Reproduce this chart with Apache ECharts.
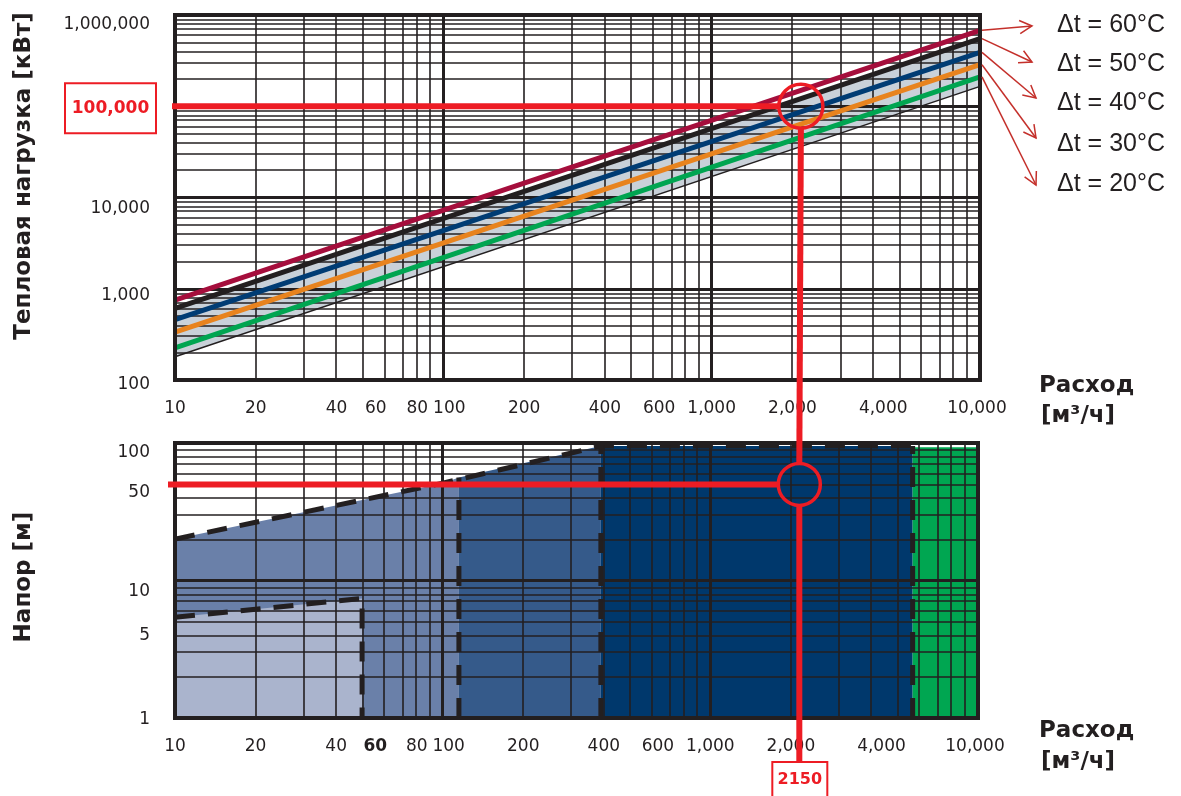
<!DOCTYPE html>
<html><head><meta charset="utf-8">
<script src="https://cdn.jsdelivr.net/npm/echarts@6/dist/echarts.min.js"></script>
<style>html,body{margin:0;padding:0;background:#fff}#c{width:1181px;height:796px}</style>
</head><body><div id="c"></div>
<script>
// ---------- data ----------
const flowTicks = [10, 20, 40, 60, 80, 100, 200, 400, 600, 1000, 2000, 4000, 10000];
const flowTickLabels = ['10', '20', '40', '60', '80', '100', '200', '400', '600', '1,000', '2,000', '4,000', '10,000'];
const loadTicks = [100, 1000, 10000, 1000000];
const loadTickLabels = ['100', '1,000', '10,000', '1,000,000'];
const headTicks = [1, 5, 10, 50, 100];
const headTickLabels = ['1', '5', '10', '50', '100'];

// heat load lines (kW) at flow ends (m3/h)
const lineFlow = [10, 10000];
const dtNames = ['Δt = 60°C', 'Δt = 50°C', 'Δt = 40°C', 'Δt = 30°C', 'Δt = 20°C'];
const load60 = [750, 680000];
const load50 = [610, 550000];
const load40 = [460, 390000];
const load30 = [335, 285000];
const load20 = [225, 210000];
const bandLower = [180, 165000];

// pump ranges (head, m) vs flow
const lightFlow = [10, 50];
const lightHead = [5.4, 7.4];
const mediumFlow = [10, 100, 115];
const mediumHead = [20, 51, 56];
const darkFlow = [115, 390];
const darkHead = [56, 95];
const navyFlow = [390, 5700];
const navyHead = [95, 95];
const greenFlow = [5700, 10000];
const greenHead = [93, 93];

// example reading
const annoFlow = 2150;
const annoLoad = 100000;
const annoHead = 50;

// ---------- helpers ----------
const lg = Math.log10;
const INK = '#231f20';
const FONT = 'DejaVu Sans';
const RED = '#ed1c24';

// label nudges (pixels) to mimic the reference's hand-set label layout
const flowLabelShift = { 60: -8, 100: 6, 600: 7, 4000: 10, 10000: -3 };
const loadLabelDrop = { 100: 5, 1000: 7, 10000: 11, 1000000: 10 };
const headLabelDrop = { 1: 2, 5: 14, 10: 11, 50: 8, 100: 10 };

function pairs(xs, ys) { return xs.map((x, i) => [lg(x), lg(ys[i])]); }
function nearestIdx(ticks, v) {
  let bi = 0, bd = 1e9;
  ticks.forEach((t, i) => { const d = Math.abs(lg(t) - v); if (d < bd) { bd = d; bi = i; } });
  return bi;
}
function xRich(bold) {
  const r = {};
  flowTicks.forEach((t, i) => {
    const s = flowLabelShift[t] || 0;
    r['t' + i] = {
      fontFamily: FONT, fontSize: 17, color: INK,
      fontWeight: (bold && bold.indexOf(t) >= 0) ? 'bold' : 'normal',
      padding: s > 0 ? [0, 0, 0, 2 * s] : [0, -2 * s, 0, 0]
    };
  });
  return r;
}
function yRich(ticks, drop) {
  const r = {};
  ticks.forEach((t, i) => {
    r['t' + i] = { fontFamily: FONT, fontSize: 17, color: INK, padding: [2 * (drop[t] || 0), 0, 0, 0] };
  });
  return r;
}
function tickFmt(ticks, labels) {
  return function (v) { const i = nearestIdx(ticks, v); return '{t' + i + '|' + labels[i] + '}'; };
}
function logGrid(lo, hi) {
  const major = [], minor = [];
  for (let e = lo; e <= hi; e++) {
    major.push(e);
    if (e < hi) for (let k = 2; k <= 9; k++) minor.push(e + lg(k));
  }
  return { major, minor };
}
function gridSeries(xi, yi, xg, yg, z) {
  const minorStyle = { color: INK, width: 1.6, type: 'solid', opacity: 1 };
  const majorStyle = { color: INK, width: 3, type: 'solid', opacity: 1 };
  const data = [];
  xg.minor.forEach(v => data.push({ xAxis: v, lineStyle: minorStyle }));
  xg.major.forEach(v => data.push({ xAxis: v, lineStyle: majorStyle }));
  yg.minor.forEach(v => data.push({ yAxis: v, lineStyle: minorStyle }));
  yg.major.forEach(v => data.push({ yAxis: v, lineStyle: majorStyle }));
  return {
    type: 'line', xAxisIndex: xi, yAxisIndex: yi, data: [], z: z, silent: true,
    markLine: { silent: true, symbol: ['none', 'none'], label: { show: false }, animation: false, data: data }
  };
}
const labelBase = { color: INK, fontFamily: FONT, fontSize: 17 };

const xg = logGrid(1, 4), ytg = logGrid(2, 6), ybg = logGrid(0, 2);

const lineColors = ['#a50e3c', INK, '#003c74', '#e8831e', '#00a551'];
const loads = [load60, load50, load40, load30, load20];

const chart = echarts.init(document.getElementById('c'));

function xAxisDef(gi, bold) {
  return {
    type: 'value', gridIndex: gi, min: 1, max: 4,
    axisLine: { show: false }, axisTick: { show: false }, splitLine: { show: false },
    axisLabel: Object.assign({}, labelBase, {
      margin: 20, customValues: flowTicks.map(lg),
      formatter: tickFmt(flowTicks, flowTickLabels),
      rich: xRich(bold)
    })
  };
}
function yAxisDef(gi, min, max, ticks, labels, drop) {
  return {
    type: 'value', gridIndex: gi, min: min, max: max,
    axisLine: { show: false }, axisTick: { show: false }, splitLine: { show: false },
    axisLabel: Object.assign({}, labelBase, {
      margin: 25, customValues: ticks.map(lg),
      formatter: tickFmt(ticks, labels), rich: yRich(ticks, drop)
    })
  };
}

const series = [];
// top: band
const bandData = lineFlow.map((f, j) => [lg(f), lg(load50[j]), lg(bandLower[j])]);
series.push({
  type: 'custom', xAxisIndex: 0, yAxisIndex: 0, z: 1, silent: true, data: bandData,
  renderItem: function (params, api) {
    if (params.dataIndex !== 0) return null;
    const top = bandData.map(d => api.coord([d[0], d[1]]));
    const bot = bandData.map(d => api.coord([d[0], d[2]])).reverse();
    return { type: 'polygon', shape: { points: top.concat(bot) }, style: { fill: '#c9d1d9' } };
  }
});
series.push(gridSeries(0, 0, xg, ytg, 2));
series.push({
  type: 'line', xAxisIndex: 0, yAxisIndex: 0, z: 4, symbol: 'none', silent: true,
  data: pairs(lineFlow, bandLower), lineStyle: { color: INK, width: 1.5 }
});
loads.forEach((arr, i) => {
  series.push({
    name: dtNames[i], type: 'line', xAxisIndex: 0, yAxisIndex: 0, z: 5, symbol: 'none', silent: true,
    data: pairs(lineFlow, arr), lineStyle: { color: lineColors[i], width: 5 }
  });
});

// bottom: areas
const areas = [
  [mediumFlow, mediumHead, '#6a80a9'],
  [darkFlow, darkHead, '#355a8a'],
  [navyFlow, navyHead, '#00386c'],
  [greenFlow, greenHead, '#00a651'],
  [lightFlow, lightHead, '#aab4cd']
];
areas.forEach(a => {
  series.push({
    type: 'line', xAxisIndex: 1, yAxisIndex: 1, z: 2, symbol: 'none', silent: true,
    data: pairs(a[0], a[1]), lineStyle: { width: 0 },
    areaStyle: { color: a[2], opacity: 1, origin: 'start' }
  });
});
series.push(gridSeries(1, 1, xg, ybg, 3));
// dashed boundaries
const dash = { color: INK, width: 5, type: [20, 13] };
const bounds = [
  pairs(lightFlow.concat([lightFlow[1]]), lightHead.concat([1])),
  pairs(mediumFlow.slice(0, 2).concat(navyFlow), mediumHead.slice(0, 2).concat(navyHead)),
  pairs([darkFlow[0], darkFlow[0]], [1, darkHead[0]]),
  pairs([navyFlow[0], navyFlow[0]], [1, navyHead[0]]),
  pairs([greenFlow[0], greenFlow[0]], [1, navyHead[1]])
];
bounds.forEach(b => series.push({
  type: 'line', xAxisIndex: 1, yAxisIndex: 1, z: 4, symbol: 'none', silent: true,
  data: b, lineStyle: dash
}));

const option = {
  animation: false,
  backgroundColor: '#ffffff',
  grid: [
    { left: 175, top: 15, width: 805, height: 365, show: true, borderColor: INK, borderWidth: 4, backgroundColor: 'transparent', z: 10 },
    { left: 175, top: 443, width: 803, height: 275, show: true, borderColor: INK, borderWidth: 4, backgroundColor: 'transparent', z: 10 }
  ],
  xAxis: [xAxisDef(0, null), xAxisDef(1, [60])],
  yAxis: [
    yAxisDef(0, 2, 6, loadTicks, loadTickLabels, loadLabelDrop),
    yAxisDef(1, 0, 2, headTicks, headTickLabels, headLabelDrop)
  ],
  series: series
};
chart.setOption(option);

// ---------- annotations & texts ----------
const g = [];
const pT = chart.convertToPixel({ gridIndex: 0 }, [lg(annoFlow), lg(annoLoad)]);
const pB = chart.convertToPixel({ gridIndex: 1 }, [lg(annoFlow), lg(annoHead)]);
const R1 = 22, R2 = 21;
const redLine = { stroke: RED, lineWidth: 6 };
g.push({ type: 'line', z: 100, shape: { x1: 172, y1: pT[1], x2: pT[0] - R1, y2: pT[1] }, style: redLine });
g.push({ type: 'circle', z: 100, shape: { cx: pT[0], cy: pT[1], r: R1 }, style: { stroke: RED, lineWidth: 3.5, fill: null } });
g.push({ type: 'line', z: 100, shape: { x1: pT[0], y1: pT[1] + R1, x2: pB[0], y2: pB[1] - R2 }, style: redLine });
g.push({ type: 'line', z: 100, shape: { x1: 168, y1: pB[1], x2: pB[0] - R2, y2: pB[1] }, style: redLine });
g.push({ type: 'circle', z: 100, shape: { cx: pB[0], cy: pB[1], r: R2 }, style: { stroke: RED, lineWidth: 3.5, fill: null } });
g.push({ type: 'line', z: 100, shape: { x1: pB[0], y1: pB[1] + R2, x2: pB[0], y2: 762 }, style: redLine });
// boxes
g.push({ type: 'rect', z: 100, shape: { x: 65, y: pT[1] - 23, width: 91, height: 50 }, style: { stroke: RED, lineWidth: 2, fill: '#fff' } });
g.push({ type: 'text', z: 101, x: 110.5, y: pT[1] + 2, style: { text: annoLoad.toLocaleString('en-US'), fill: RED, font: 'bold 17px "DejaVu Sans"', align: 'center', verticalAlign: 'middle' } });
g.push({ type: 'rect', z: 100, shape: { x: pB[0] - 27, y: 762, width: 55, height: 50 }, style: { stroke: RED, lineWidth: 2, fill: '#fff' } });
g.push({ type: 'text', z: 101, x: pB[0] + 0.5, y: 780, style: { text: String(annoFlow), fill: RED, font: 'bold 16px "DejaVu Sans"', align: 'center', verticalAlign: 'middle' } });

// legend texts and arrows
const legY = [25, 64, 103, 144, 184];
const tips = [[1032, 26], [1032, 62], [1036, 98], [1036, 138], [1036, 185]];
const ARROW = '#c4302b';
loads.forEach((arr, i) => {
  g.push({ type: 'text', z: 100, x: 1057, y: legY[i], style: { text: dtNames[i], fill: INK, font: '25px "Liberation Sans"', align: 'left', verticalAlign: 'middle' } });
  const s = chart.convertToPixel({ gridIndex: 0 }, [lg(lineFlow[1]), lg(arr[1])]);
  const sx = s[0] + 2, sy = s[1];
  const tx = tips[i][0], ty = tips[i][1];
  const dx = tx - sx, dy = ty - sy, L = Math.hypot(dx, dy), ux = dx / L, uy = dy / L;
  const a = 28 * Math.PI / 180, H = 14;
  const h1 = [tx - H * (ux * Math.cos(a) - uy * Math.sin(a)), ty - H * (ux * Math.sin(a) + uy * Math.cos(a))];
  const h2 = [tx - H * (ux * Math.cos(-a) - uy * Math.sin(-a)), ty - H * (ux * Math.sin(-a) + uy * Math.cos(-a))];
  g.push({ type: 'line', z: 100, shape: { x1: sx, y1: sy, x2: tx, y2: ty }, style: { stroke: ARROW, lineWidth: 1.5 } });
  g.push({ type: 'polyline', z: 100, shape: { points: [h1, [tx, ty], h2] }, style: { stroke: ARROW, lineWidth: 1.5, fill: null } });
});

// axis titles
const titleFont = 'bold 23px "DejaVu Sans"';
g.push({ type: 'text', z: 100, x: 24, y: 176, rotation: Math.PI / 2, style: { text: 'Тепловая нагрузка [кВт]', fill: INK, font: titleFont, align: 'center', verticalAlign: 'middle' } });
g.push({ type: 'text', z: 100, x: 24, y: 577, rotation: Math.PI / 2, style: { text: 'Напор [м]', fill: INK, font: titleFont, align: 'center', verticalAlign: 'middle' } });
[[386, 416], [731, 762]].forEach(p => {
  g.push({ type: 'text', z: 100, x: 1039, y: p[0], style: { text: 'Расход', fill: INK, font: titleFont, align: 'left', verticalAlign: 'middle' } });
  g.push({ type: 'text', z: 100, x: 1041, y: p[1], style: { text: '[м³/ч]', fill: INK, font: titleFont, align: 'left', verticalAlign: 'middle' } });
});

chart.setOption({ graphic: { elements: g } });
</script>
</body></html>
